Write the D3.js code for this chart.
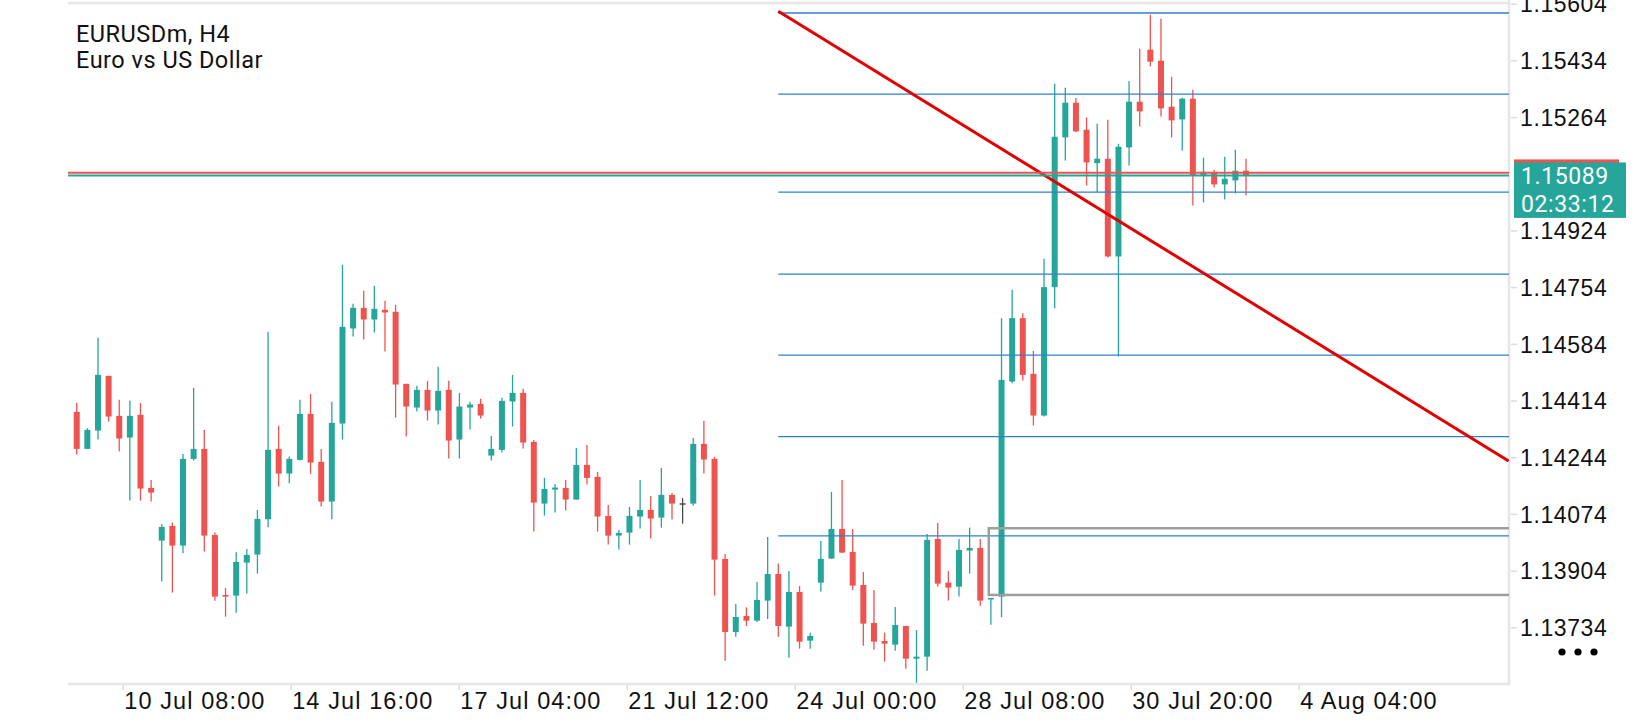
<!DOCTYPE html>
<html>
<head>
<meta charset="utf-8">
<script src="https://d3js.org/d3.v7.min.js"></script>
<style>
    html, body { margin: 0; padding: 0; background: #fff; }
    svg { display: block; font-family: Roboto, "Noto Sans", sans-serif; }
</style>
</head>
<body>
<div id="chart"></div>
<script>

// Data Model (EURUSDm, H4 candles, oldest first)
var opens = [
    1.14380, 1.14269, 1.14324, 1.14488, 1.14368, 1.14303, 1.14371, 1.14152, 1.13994, 1.14038,
    1.13979, 1.14239, 1.14269, 1.14011, 1.13831, 1.13829, 1.13928, 1.13952, 1.14058, 1.14269,
    1.14195, 1.14236, 1.14374, 1.14230, 1.14111, 1.14345, 1.14630, 1.14692, 1.14657, 1.14686,
    1.14680, 1.14464, 1.14393, 1.14446, 1.14384, 1.14446, 1.14297, 1.14393, 1.14404, 1.14249,
    1.14266, 1.14411, 1.14437, 1.14290, 1.14105, 1.14147, 1.14152, 1.14117, 1.14221, 1.14185,
    1.14068, 1.14009, 1.14018, 1.14066, 1.14086, 1.14063, 1.14131, 1.14106, 1.14105, 1.14284,
    1.14239, 1.13939, 1.13720, 1.13768, 1.13754, 1.13814, 1.13894, 1.13736, 1.13840, 1.13694,
    1.13868, 1.13940, 1.14029, 1.13960, 1.13861, 1.13747, 1.13693, 1.13682, 1.13738, 1.13640,
    1.13646, 1.13999, 1.13868, 1.13856, 1.13964, 1.13972, 1.13818, 1.13826, 1.14471, 1.14661,
    1.14494, 1.14369, 1.14754, 1.15203, 1.15307, 1.15226, 1.15126, 1.15139, 1.14846, 1.15173,
    1.15310, 1.15466, 1.15433, 1.15295, 1.15257, 1.15319, 1.15088, 1.15097, 1.15062, 1.15074,
    1.15103
];
var highs = [
    1.14407, 1.14331, 1.14602, 1.14488, 1.14416, 1.14413, 1.14407, 1.14176, 1.14044, 1.14048,
    1.14254, 1.14452, 1.14326, 1.14018, 1.13852, 1.13959, 1.13969, 1.14086, 1.14620, 1.14338,
    1.14246, 1.14416, 1.14434, 1.14269, 1.14410, 1.14821, 1.14704, 1.14743, 1.14758, 1.14713,
    1.14701, 1.14464, 1.14458, 1.14473, 1.14515, 1.14473, 1.14437, 1.14410, 1.14419, 1.14308,
    1.14422, 1.14491, 1.14449, 1.14296, 1.14182, 1.14164, 1.14176, 1.14272, 1.14281, 1.14200,
    1.14101, 1.14026, 1.14095, 1.14176, 1.14128, 1.14212, 1.14137, 1.14121, 1.14302, 1.14353,
    1.14245, 1.13954, 1.13804, 1.13794, 1.13870, 1.14005, 1.13925, 1.13903, 1.13858, 1.13718,
    1.13993, 1.14140, 1.14176, 1.14029, 1.13900, 1.13846, 1.13718, 1.13795, 1.13738, 1.13726,
    1.14014, 1.14047, 1.13903, 1.13999, 1.14033, 1.13999, 1.13822, 1.14661, 1.14746, 1.14676,
    1.14563, 1.14839, 1.15364, 1.15352, 1.15321, 1.15263, 1.15244, 1.15256, 1.15184, 1.15371,
    1.15469, 1.15571, 1.15559, 1.15385, 1.15322, 1.15346, 1.15142, 1.15106, 1.15145, 1.15166,
    1.15139
];
var lows = [
    1.14252, 1.14269, 1.14297, 1.14351, 1.14261, 1.14114, 1.14114, 1.14111, 1.13871, 1.13838,
    1.13956, 1.14234, 1.13961, 1.13814, 1.13766, 1.13778, 1.13835, 1.13895, 1.14034, 1.14156,
    1.14166, 1.14234, 1.14194, 1.14096, 1.14058, 1.14297, 1.14606, 1.14597, 1.14618, 1.14561,
    1.14363, 1.14306, 1.14381, 1.14354, 1.14342, 1.14240, 1.14240, 1.14327, 1.14360, 1.14234,
    1.14258, 1.14336, 1.14270, 1.14021, 1.14069, 1.14078, 1.14084, 1.14117, 1.14162, 1.14021,
    1.13982, 1.13967, 1.13982, 1.14030, 1.14000, 1.14033, 1.14057, 1.14045, 1.14099, 1.14195,
    1.13829, 1.13634, 1.13706, 1.13738, 1.13750, 1.13759, 1.13706, 1.13643, 1.13670, 1.13670,
    1.13841, 1.13940, 1.13957, 1.13846, 1.13679, 1.13667, 1.13631, 1.13664, 1.13610, 1.13568,
    1.13604, 1.13856, 1.13814, 1.13826, 1.13895, 1.13799, 1.13742, 1.13764, 1.14466, 1.14474,
    1.14339, 1.14366, 1.14691, 1.15134, 1.15219, 1.15059, 1.15039, 1.14843, 1.14546, 1.15119,
    1.15236, 1.15416, 1.15266, 1.15203, 1.15164, 1.14999, 1.15008, 1.15053, 1.15017, 1.15035,
    1.15029
];
var closes = [
    1.14269, 1.14326, 1.14491, 1.14366, 1.14300, 1.14368, 1.14150, 1.14138, 1.14035, 1.13979,
    1.14239, 1.14269, 1.14009, 1.13826, 1.13826, 1.13930, 1.13951, 1.14059, 1.14266, 1.14195,
    1.14239, 1.14374, 1.14228, 1.14111, 1.14347, 1.14635, 1.14692, 1.14657, 1.14689, 1.14678,
    1.14462, 1.14396, 1.14446, 1.14384, 1.14443, 1.14294, 1.14396, 1.14402, 1.14369, 1.14269,
    1.14413, 1.14437, 1.14288, 1.14108, 1.14149, 1.14153, 1.14117, 1.14221, 1.14182, 1.14066,
    1.14009, 1.14017, 1.14068, 1.14086, 1.14060, 1.14131, 1.14105, 1.14106, 1.14284, 1.14237,
    1.13937, 1.13720, 1.13765, 1.13754, 1.13816, 1.13894, 1.13738, 1.13840, 1.13691, 1.13708,
    1.13939, 1.14029, 1.13958, 1.13859, 1.13745, 1.13691, 1.13685, 1.13741, 1.13640, 1.13646,
    1.13996, 1.13865, 1.13853, 1.13966, 1.13972, 1.13814, 1.13822, 1.14476, 1.14661, 1.14491,
    1.14369, 1.14754, 1.15205, 1.15307, 1.15221, 1.15128, 1.15139, 1.14846, 1.15175, 1.15310,
    1.15281, 1.15430, 1.15290, 1.15254, 1.15319, 1.15088, 1.15100, 1.15062, 1.15079, 1.15103,
    1.15089
];

// Axis labels
var timeLabels = ["10 Jul 08:00", "14 Jul 16:00", "17 Jul 04:00", "21 Jul 12:00",
                  "24 Jul 00:00", "28 Jul 08:00", "30 Jul 20:00", "4 Aug 04:00"];
var timeTickBars = [4.33, 20.13, 35.94, 51.74, 67.54, 83.35, 99.15, 114.96];
var priceTicks = [1.13734, 1.13904, 1.14074, 1.14244, 1.14414, 1.14584,
                  1.14754, 1.14924, 1.15264, 1.15434, 1.15604];

// Objects drawn on the chart
var levelPrices = [1.15576, 1.15333, 1.15039, 1.14793, 1.14550, 1.14306, 1.14008];
var levelStartBar = 66;
var trendPoints = [[66, 1.15581], [134.7, 1.14233]];
var boxBars = [85.8, 140];
var boxPrices = [1.14031, 1.13831];
var askPrice = 1.15097;
var countdown = "02:33:12";

// Dimensions
var width = 1640;
var height = 720;
var plot = { left: 68, right: 1509, top: 3, bottom: 684 };

var green = "#26a69a";
var red = "#ef5350";

var svg = d3.select("#chart").append("svg")
    .attr("width", width)
    .attr("height", height);

svg.append("defs").append("clipPath")
    .attr("id", "plot-clip")
    .append("rect")
    .attr("x", plot.left)
    .attr("y", plot.top)
    .attr("width", plot.right - plot.left)
    .attr("height", plot.bottom - plot.top);

//Axis
var x = d3.scaleLinear()
    .domain([-0.82, 134.74])
    .range([plot.left, plot.right]);

var y = d3.scaleLinear()
    .domain([1.13564, 1.15606])
    .range([plot.bottom, plot.top]);

var fmt = d3.format(".5f");

// Frame
var frame = svg.append("g").attr("class", "frame")
    .attr("stroke", "#e6e6e6")
    .attr("stroke-width", 2.5);

frame.append("line")
    .attr("x1", plot.left).attr("x2", plot.right)
    .attr("y1", plot.top).attr("y2", plot.top);
frame.append("line")
    .attr("x1", plot.left).attr("x2", plot.right + 1)
    .attr("y1", plot.bottom).attr("y2", plot.bottom);
frame.append("line")
    .attr("x1", plot.right).attr("x2", plot.right)
    .attr("y1", 0).attr("y2", plot.bottom);

// Price axis on the right (top label is cut by the window edge, as in the app)
var yAxis = d3.axisRight(y)
    .tickValues(priceTicks)
    .tickFormat(fmt)
    .tickSize(6)
    .tickPadding(3);

var yAxisG = svg.append("g")
    .attr("class", "y-axis")
    .attr("transform", "translate(" + (plot.right + 2) + ",0)")
    .call(yAxis);

yAxisG.select(".domain").remove();
yAxisG.selectAll(".tick line").attr("stroke", "#dcdcdc").attr("stroke-width", 1.5);
yAxisG.selectAll(".tick text")
    .attr("fill", "#111")
    .style("font-size", "23px")
    .style("letter-spacing", "0.6px")
    .attr("dy", "0.36em");

// Time axis on the bottom
var xAxis = d3.axisBottom(x)
    .tickValues(timeTickBars)
    .tickFormat(function(d, i) { return timeLabels[i]; })
    .tickSize(5)
    .tickPadding(4);

var xAxisG = svg.append("g")
    .attr("class", "x-axis")
    .attr("transform", "translate(0," + (plot.bottom + 1) + ")")
    .call(xAxis);

xAxisG.select(".domain").remove();
xAxisG.selectAll(".tick line").attr("stroke", "#dcdcdc").attr("stroke-width", 1.5);
xAxisG.selectAll(".tick text")
    .attr("fill", "#111")
    .attr("text-anchor", "start")
    .attr("x", 1)
    .attr("y", 0)
    .attr("dy", 24)
    .style("font-size", "23.5px")
    .style("letter-spacing", "1.1px");

// Candles
var candles = svg.append("g")
    .attr("class", "candles")
    .attr("clip-path", "url(#plot-clip)");

var bodyWidth = 6;

function candleColor(i) {
    if (closes[i] > opens[i]) return green;
    if (closes[i] < opens[i]) return red;
    return "#4a4a4a";
}

candles.selectAll("line.wick")
    .data(opens)
    .enter()
    .append("line")
    .attr("class", "wick")
    .attr("x1", function(d, i) { return x(i); })
    .attr("x2", function(d, i) { return x(i); })
    .attr("y1", function(d, i) { return y(highs[i]); })
    .attr("y2", function(d, i) { return y(lows[i]); })
    .attr("stroke", function(d, i) { return candleColor(i); })
    .attr("stroke-width", 1.3);

candles.selectAll("rect.body")
    .data(opens)
    .enter()
    .append("rect")
    .attr("class", "body")
    .attr("x", function(d, i) { return x(i) - bodyWidth / 2; })
    .attr("width", bodyWidth)
    .attr("y", function(d, i) { return y(Math.max(opens[i], closes[i])); })
    .attr("height", function(d, i) {
        return Math.max(1.5, Math.abs(y(opens[i]) - y(closes[i])));
    })
    .attr("fill", function(d, i) { return candleColor(i); });

// Drawn objects
var objects = svg.append("g")
    .attr("class", "objects")
    .attr("clip-path", "url(#plot-clip)");

objects.selectAll("line.level")
    .data(levelPrices)
    .enter()
    .append("line")
    .attr("class", "level")
    .attr("x1", x(levelStartBar))
    .attr("x2", plot.right)
    .attr("y1", function(d) { return y(d); })
    .attr("y2", function(d) { return y(d); })
    .attr("stroke", "#2f80cf")
    .attr("stroke-width", 1.3);

objects.append("rect")
    .attr("class", "zone")
    .attr("x", x(boxBars[0]))
    .attr("y", y(boxPrices[0]))
    .attr("width", x(boxBars[1]) - x(boxBars[0]))
    .attr("height", y(boxPrices[1]) - y(boxPrices[0]))
    .attr("fill", "none")
    .attr("stroke", "#9e9e9e")
    .attr("stroke-width", 2.5);

objects.append("line")
    .attr("class", "trend")
    .attr("x1", x(trendPoints[0][0]))
    .attr("y1", y(trendPoints[0][1]))
    .attr("x2", x(trendPoints[1][0]))
    .attr("y2", y(trendPoints[1][1]))
    .attr("stroke", "#e30000")
    .attr("stroke-width", 3);

// Ask / Bid lines
var last = closes[closes.length - 1];

objects.append("line")
    .attr("class", "ask")
    .attr("x1", plot.left).attr("x2", plot.right)
    .attr("y1", y(askPrice)).attr("y2", y(askPrice))
    .attr("stroke", red)
    .attr("stroke-width", 2);

objects.append("line")
    .attr("class", "bid")
    .attr("x1", plot.left).attr("x2", plot.right)
    .attr("y1", y(last)).attr("y2", y(last))
    .attr("stroke", green)
    .attr("stroke-width", 2);

// Current price label
var yLast = y(last);
var priceLabel = svg.append("g")
    .attr("class", "price-label")
    .attr("transform", "translate(" + (plot.right + 5) + "," + (yLast - 13) + ")");

priceLabel.append("rect")
    .attr("x", 0).attr("y", -3)
    .attr("width", 105).attr("height", 4)
    .attr("fill", red);

priceLabel.append("rect")
    .attr("x", 0).attr("y", 0)
    .attr("width", 112).attr("height", 55.5)
    .attr("fill", green);

priceLabel.append("text")
    .attr("x", 7).attr("y", 22)
    .attr("fill", "#fff")
    .style("font-size", "23px")
    .style("letter-spacing", "0.6px")
    .text(fmt(last));

priceLabel.append("text")
    .attr("x", 7).attr("y", 49.5)
    .attr("fill", "#fff")
    .style("font-size", "23px")
    .style("letter-spacing", "0.6px")
    .text(countdown);

// Menu dots
svg.append("g")
    .attr("class", "menu-dots")
    .selectAll("circle")
    .data([0, 1, 2])
    .enter()
    .append("circle")
    .attr("cx", function(d) { return 1562 + d * 16; })
    .attr("cy", 652)
    .attr("r", 3.6)
    .attr("fill", "#000");

// Legend
var legend = svg.append("g")
    .attr("class", "legend")
    .attr("fill", "#111")
    .style("font-size", "23.5px")
    .style("letter-spacing", "0.5px");

legend.append("text")
    .attr("x", 76).attr("y", 42)
    .text("EURUSDm, H4");

legend.append("text")
    .attr("x", 76).attr("y", 68)
    .text("Euro vs US Dollar");

</script>
</body>
</html>
